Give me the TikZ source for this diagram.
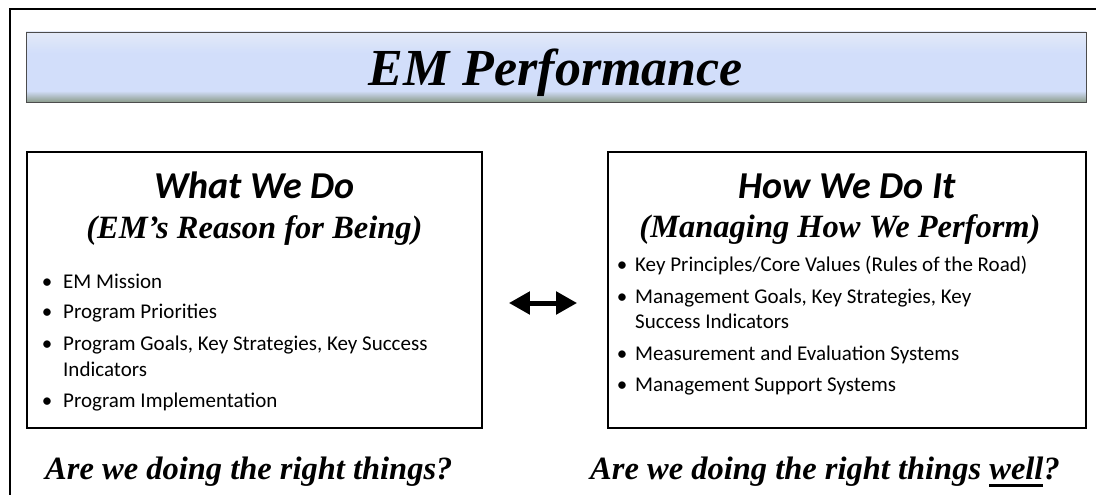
\documentclass[tikz,border=0pt]{standalone}
\usepackage{fontspec}
\setmainfont{Liberation Serif}
\newfontfamily\calibri{Carlito}
\usetikzlibrary{arrows.meta}

\definecolor{bartop}{RGB}{227,234,248}
\definecolor{barmid}{RGB}{210,222,250}
\definecolor{barbot}{RGB}{140,156,140}
\pgfdeclareverticalshading{barshade}{100bp}{color(0bp)=(barbot); color(25bp)=(barbot); color(33bp)=(barmid); color(60bp)=(barmid); color(75bp)=(bartop); color(100bp)=(bartop)}

\newcommand{\thickul}[1]{\setbox0\hbox{#1}\rlap{\rule[-8pt]{\wd0}{3pt}}\box0}

\tikzstyle{titlebar}=[draw=black!70,line width=0.8pt,shade,shading=barshade,minimum width=1060pt,minimum height=70pt,inner sep=0pt,text depth=0pt,font=\fontsize{52}{60}\selectfont\bfseries\itshape]
\tikzstyle{panel}=[draw,line width=1.8pt,minimum height=276pt,inner sep=0pt]
\tikzstyle{head}=[anchor=base,inner sep=0pt,font=\calibri\fontsize{38}{44}\selectfont\bfseries\itshape]
\tikzstyle{subhead}=[anchor=base,inner sep=0pt,font=\fontsize{32.5}{38}\selectfont\bfseries\itshape]
\tikzstyle{dot}=[anchor=base,inner sep=0pt,font=\calibri\fontsize{21}{25}\selectfont]
\tikzstyle{entry}=[anchor=base west,inner sep=0pt,font=\calibri\fontsize{21}{25}\selectfont]
\tikzstyle{question}=[anchor=base west,inner sep=0pt,font=\fontsize{32.5}{38}\selectfont\bfseries\itshape]
\tikzstyle{bothways}=[{Triangle[width=22pt,length=21pt]}-{Triangle[width=22pt,length=21pt]},line width=5pt]

\begin{document}
\begin{tikzpicture}[x=1pt,y=-1pt]
    \useasboundingbox (0,0) rectangle (1096,495);
    %Frame
    \draw[line width=2pt] (10,495) -- (10,9) -- (1096,9);
    \node[titlebar] (title) at (556,67) {EM Performance};
    %Left panel
    \node[panel,minimum width=455pt] (what) at (254.5,290) {};
    \node[head] (whathead) at (254.5,198) {What We Do};
    \node[subhead] (whatsub) at (254.5,238) {(EM’s Reason for Being)};
    \foreach \y/\txt in {288/EM Mission, 318/Program Priorities,
                         350/{Program Goals, Key Strategies, Key Success},
                         407/Program Implementation}
    {
    \node[dot] (wd\y) at (47,\y) {•};
    \node[entry] (wt\y) at (63,\y) {\txt};
    }
    \node[entry] (wt376) at (63,376) {Indicators};
    %Right panel
    \node[panel,minimum width=478pt] (how) at (847,290) {};
    \node[head] (howhead) at (847,198) {How We Do It};
    \node[subhead] (howsub) at (840,237) {(Managing How We Perform)};
    \foreach \y/\txt in {271/{Key Principles/Core Values (Rules of the Road)},
                         303/{Management Goals, Key Strategies, Key},
                         360/Measurement and Evaluation Systems,
                         391/Management Support Systems}
    {
    \node[dot] (hd\y) at (622,\y) {•};
    \node[entry] (ht\y) at (635,\y) {\txt};
    }
    \node[entry] (ht328) at (635,328) {Success Indicators};
    %Link
    \draw[bothways,shorten <=26pt,shorten >=30pt] ([yshift=-13pt]what.east) -- ([yshift=-13pt]how.west);
    %Questions
    \node[question] (q1) at (45,479) {Are we doing the right things?};
    \node[question] (q2) at (590,479) {Are we doing the right things \thickul{well}?};
\end{tikzpicture}
\end{document}
